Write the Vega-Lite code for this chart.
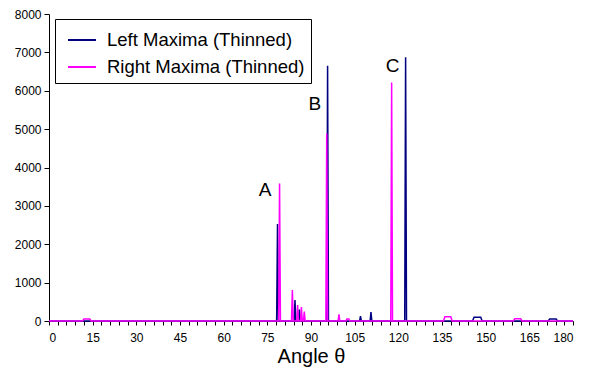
{
  "$schema": "https://vega.github.io/schema/vega-lite/v6.json",
  "width": 524,
  "height": 307,
  "autosize": {"type": "none"},
  "padding": {"left": 49, "top": 14, "right": 19, "bottom": 48},
  "background": "white",
  "config": {
    "font": "Liberation Sans",
    "view": {"stroke": null},
    "axis": {"grid": false, "domainColor": "black", "tickColor": "black", "labelColor": "black", "titleColor": "black", "labelFont": "Liberation Sans", "titleFont": "Liberation Sans", "labelOverlap": false}
  },
  "datasets": {
    "series": [
      {"a": 0, "v": 0, "s": "Left Maxima (Thinned)"},
      {"a": 78.2, "v": 0, "s": "Left Maxima (Thinned)"},
      {"a": 78.5, "v": 2526, "s": "Left Maxima (Thinned)"},
      {"a": 78.8, "v": 0, "s": "Left Maxima (Thinned)"},
      {"a": 84.2, "v": 0, "s": "Left Maxima (Thinned)"},
      {"a": 84.5, "v": 547, "s": "Left Maxima (Thinned)"},
      {"a": 84.8, "v": 0, "s": "Left Maxima (Thinned)"},
      {"a": 85.7, "v": 0, "s": "Left Maxima (Thinned)"},
      {"a": 86.0, "v": 300, "s": "Left Maxima (Thinned)"},
      {"a": 86.3, "v": 0, "s": "Left Maxima (Thinned)"},
      {"a": 95.4, "v": 0, "s": "Left Maxima (Thinned)"},
      {"a": 95.7, "v": 6650, "s": "Left Maxima (Thinned)"},
      {"a": 96.0, "v": 0, "s": "Left Maxima (Thinned)"},
      {"a": 106.7, "v": 0, "s": "Left Maxima (Thinned)"},
      {"a": 107.0, "v": 130, "s": "Left Maxima (Thinned)"},
      {"a": 107.3, "v": 0, "s": "Left Maxima (Thinned)"},
      {"a": 110.3, "v": 0, "s": "Left Maxima (Thinned)"},
      {"a": 110.6, "v": 235, "s": "Left Maxima (Thinned)"},
      {"a": 110.9, "v": 0, "s": "Left Maxima (Thinned)"},
      {"a": 122.2, "v": 0, "s": "Left Maxima (Thinned)"},
      {"a": 122.5, "v": 6875, "s": "Left Maxima (Thinned)"},
      {"a": 122.8, "v": 0, "s": "Left Maxima (Thinned)"},
      {"a": 145.5, "v": 0, "s": "Left Maxima (Thinned)"},
      {"a": 146.0, "v": 100, "s": "Left Maxima (Thinned)"},
      {"a": 148.3, "v": 100, "s": "Left Maxima (Thinned)"},
      {"a": 148.8, "v": 0, "s": "Left Maxima (Thinned)"},
      {"a": 171.5, "v": 0, "s": "Left Maxima (Thinned)"},
      {"a": 172.0, "v": 50, "s": "Left Maxima (Thinned)"},
      {"a": 174.2, "v": 50, "s": "Left Maxima (Thinned)"},
      {"a": 174.7, "v": 0, "s": "Left Maxima (Thinned)"},
      {"a": 180, "v": 0, "s": "Left Maxima (Thinned)"},
      {"a": 0, "v": 0, "s": "Right Maxima (Thinned)"},
      {"a": 11.5, "v": 0, "s": "Right Maxima (Thinned)"},
      {"a": 12.0, "v": 50, "s": "Right Maxima (Thinned)"},
      {"a": 14.0, "v": 50, "s": "Right Maxima (Thinned)"},
      {"a": 14.5, "v": 0, "s": "Right Maxima (Thinned)"},
      {"a": 78.9, "v": 0, "s": "Right Maxima (Thinned)"},
      {"a": 79.2, "v": 3586, "s": "Right Maxima (Thinned)"},
      {"a": 79.5, "v": 0, "s": "Right Maxima (Thinned)"},
      {"a": 83.3, "v": 0, "s": "Right Maxima (Thinned)"},
      {"a": 83.6, "v": 807, "s": "Right Maxima (Thinned)"},
      {"a": 83.9, "v": 0, "s": "Right Maxima (Thinned)"},
      {"a": 85.1, "v": 0, "s": "Right Maxima (Thinned)"},
      {"a": 85.4, "v": 417, "s": "Right Maxima (Thinned)"},
      {"a": 85.7, "v": 0, "s": "Right Maxima (Thinned)"},
      {"a": 86.4, "v": 0, "s": "Right Maxima (Thinned)"},
      {"a": 86.7, "v": 365, "s": "Right Maxima (Thinned)"},
      {"a": 87.0, "v": 0, "s": "Right Maxima (Thinned)"},
      {"a": 87.4, "v": 0, "s": "Right Maxima (Thinned)"},
      {"a": 87.7, "v": 243, "s": "Right Maxima (Thinned)"},
      {"a": 88.0, "v": 0, "s": "Right Maxima (Thinned)"},
      {"a": 95.1, "v": 0, "s": "Right Maxima (Thinned)"},
      {"a": 95.4, "v": 4888, "s": "Right Maxima (Thinned)"},
      {"a": 95.7, "v": 0, "s": "Right Maxima (Thinned)"},
      {"a": 99.3, "v": 0, "s": "Right Maxima (Thinned)"},
      {"a": 99.6, "v": 175, "s": "Right Maxima (Thinned)"},
      {"a": 99.9, "v": 0, "s": "Right Maxima (Thinned)"},
      {"a": 102.0, "v": 0, "s": "Right Maxima (Thinned)"},
      {"a": 102.3, "v": 50, "s": "Right Maxima (Thinned)"},
      {"a": 103.0, "v": 50, "s": "Right Maxima (Thinned)"},
      {"a": 103.3, "v": 0, "s": "Right Maxima (Thinned)"},
      {"a": 117.4, "v": 0, "s": "Right Maxima (Thinned)"},
      {"a": 117.7, "v": 6216, "s": "Right Maxima (Thinned)"},
      {"a": 118.0, "v": 0, "s": "Right Maxima (Thinned)"},
      {"a": 135.5, "v": 0, "s": "Right Maxima (Thinned)"},
      {"a": 136.0, "v": 110, "s": "Right Maxima (Thinned)"},
      {"a": 138.0, "v": 110, "s": "Right Maxima (Thinned)"},
      {"a": 138.5, "v": 0, "s": "Right Maxima (Thinned)"},
      {"a": 159.5, "v": 0, "s": "Right Maxima (Thinned)"},
      {"a": 160.0, "v": 60, "s": "Right Maxima (Thinned)"},
      {"a": 162.0, "v": 60, "s": "Right Maxima (Thinned)"},
      {"a": 162.5, "v": 0, "s": "Right Maxima (Thinned)"},
      {"a": 180, "v": 0, "s": "Right Maxima (Thinned)"}
    ],
    "labels": [
      {"a": 74.2, "v": 3411, "t": "A"},
      {"a": 91.3, "v": 5650, "t": "B"},
      {"a": 118.0, "v": 6640, "t": "C"}
    ]
  },
  "encoding": {
    "x": {
      "field": "a", "type": "quantitative",
      "scale": {"domain": [0, 180], "nice": false, "zero": false},
      "axis": {
        "title": "Angle θ",
        "titleFontSize": 20, "titleFontWeight": "normal", "titlePadding": 3,
        "values": [0,3,6,9,12,15,18,21,24,27,30,33,36,39,42,45,48,51,54,57,60,63,66,69,72,75,78,81,84,87,90,93,96,99,102,105,108,111,114,117,120,123,126,129,132,135,138,141,144,147,150,153,156,159,162,165,168,171,174,177,180],
        "labelExpr": "datum.value % 15 === 0 ? datum.label : ''",
        "labelOverlap": false,
        "labelFontSize": 12, "labelPadding": 7, "tickSize": 4, "format": "d"
      }
    },
    "y": {
      "field": "v", "type": "quantitative",
      "scale": {"domain": [0, 8000], "nice": false},
      "axis": {"title": null, "values": [0,1000,2000,3000,4000,5000,6000,7000,8000], "labelOverlap": false, "labelFontSize": 12, "tickSize": 5, "labelPadding": 3, "format": "d"}
    }
  },
  "layer": [
    {
      "data": {"name": "series"},
      "mark": {"type": "line", "strokeWidth": 1.5, "interpolate": "linear"},
      "encoding": {
        "color": {
          "field": "s", "type": "nominal",
          "scale": {"domain": ["Left Maxima (Thinned)", "Right Maxima (Thinned)"], "range": ["#000080", "#FF00FF"]},
          "legend": {
            "title": null, "orient": "none", "legendX": 6, "legendY": 5,
            "direction": "vertical",
            "strokeColor": "black", "fillColor": "white", "padding": 6,
            "symbolType": "stroke", "symbolSize": 784, "symbolStrokeWidth": 2, "symbolOffset": 6,
            "labelExpr": "datum.label + '\u00a0\u00a0'",
            "labelFontSize": 18.5, "labelFont": "Liberation Sans", "labelColor": "black", "labelOffset": 10,
            "rowPadding": 2, "labelLimit": 400
          }
        }
      }
    },
    {
      "data": {"name": "labels"},
      "mark": {"type": "text", "fontSize": 19, "font": "Liberation Sans", "color": "black", "align": "center", "baseline": "middle"},
      "encoding": {
        "text": {"field": "t"}
      }
    }
  ]
}
